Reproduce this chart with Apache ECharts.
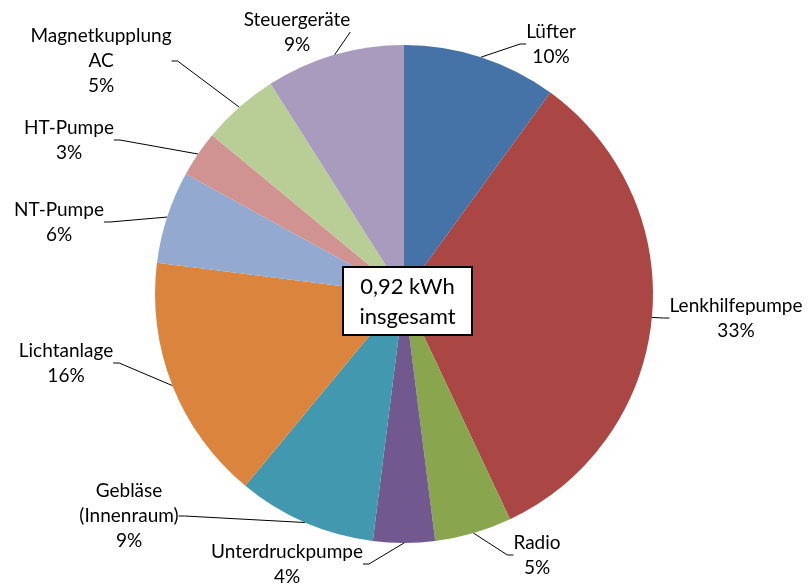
<!DOCTYPE html>
<html>
<head>
<meta charset="utf-8">
<script src="https://cdn.jsdelivr.net/npm/echarts@6/dist/echarts.min.js"></script>
<style>
  html, body { margin: 0; padding: 0; background: #fff; }
  #chart { width: 808px; height: 586px; }
</style>
</head>
<body>
<div id="chart"></div>
<script>
// Energy consumers and their share of the total (percent)
const categories = ['Lüfter', 'Lenkhilfepumpe', 'Radio', 'Unterdruckpumpe', 'Gebläse\n(Innenraum)',
  'Lichtanlage', 'NT-Pumpe', 'HT-Pumpe', 'Magnetkupplung\nAC', 'Steuergeräte'];
const shares = [10, 33, 5, 4, 9, 16, 6, 3, 5, 9];
const totalLabel = ['0,92 kWh', 'insgesamt'];

// Slice colours
const colors = ['#4572A7', '#AA4643', '#89A54E', '#71588F', '#4198AF',
  '#DB843D', '#93A9CF', '#D19392', '#B9CD96', '#A99BBD'];

// Where each label block is centred
const labelCenters = [
  [551, 44], [736, 318], [537, 555], [287, 564], [129, 516],
  [66, 363], [59, 222], [69, 140], [101, 61], [297, 32]
];

const FONT = 'Lato, "Noto Sans", sans-serif';

const chart = echarts.init(document.getElementById('chart'), null, { renderer: 'canvas' });

chart.setOption({
  animation: false,
  color: colors,
  series: [{
    type: 'pie',
    center: [404, 294],
    radius: 249,
    startAngle: 90,
    clockwise: true,
    avoidLabelOverlap: false,
    itemStyle: { borderWidth: 0 },
    data: categories.map((name, i) => ({ name: name, value: shares[i] })),
    label: {
      show: true,
      position: 'outside',
      formatter: p => p.name + '\n' + p.value + '%',
      color: '#000',
      fontFamily: FONT,
      fontSize: 19,
      lineHeight: 25,
      align: 'center'
    },
    labelLine: {
      show: true,
      length: 10,
      length2: 6,
      smooth: false,
      lineStyle: { color: '#000', width: 1 }
    },
    labelLayout: function (params) {
      const c = labelCenters[params.dataIndex];
      return { x: c[0], y: c[1], align: 'center', verticalAlign: 'middle' };
    }
  }],
  graphic: [{
    type: 'rect',
    z: 100,
    x: 343,
    y: 267,
    shape: { x: 0, y: 0, width: 129, height: 68 },
    style: { fill: '#fff', stroke: '#000', lineWidth: 2 }
  }, {
    type: 'text',
    z: 101,
    x: 407.5,
    y: 302,
    style: {
      text: totalLabel.join('\n'),
      fill: '#000',
      font: '22px ' + FONT,
      lineHeight: 30,
      align: 'center',
      verticalAlign: 'middle'
    }
  }]
});
</script>
</body>
</html>
